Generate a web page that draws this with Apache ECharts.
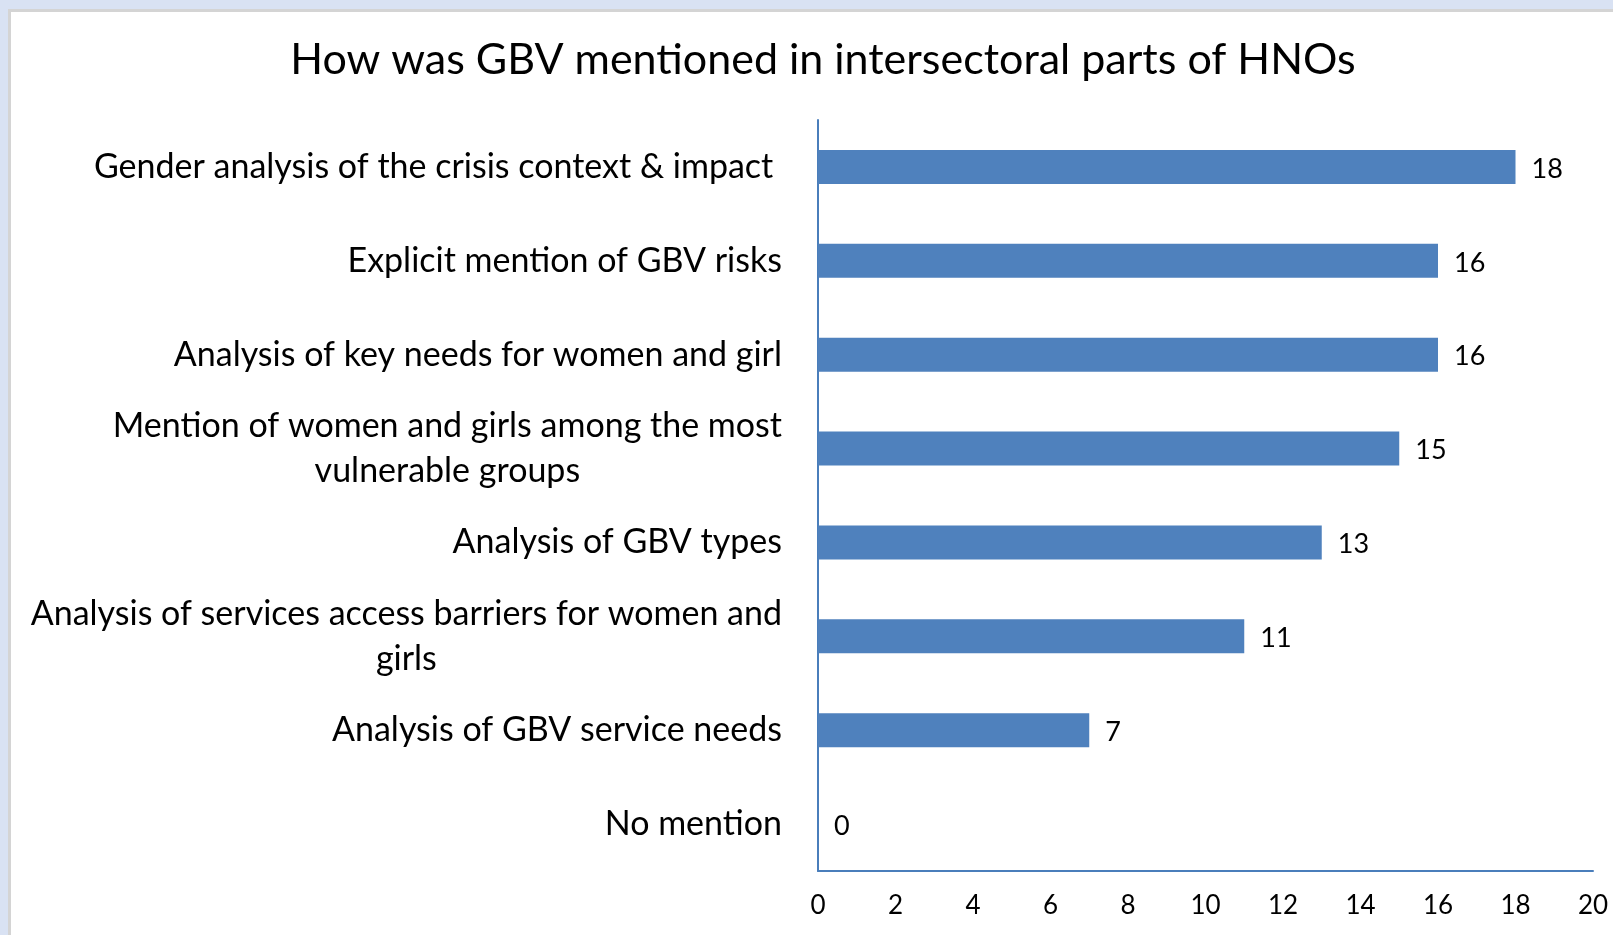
<!DOCTYPE html>
<html>
<head>
<meta charset="utf-8">
<script src="https://cdn.jsdelivr.net/npm/echarts@6/dist/echarts.min.js"></script>
<style>
html,body{margin:0;padding:0;width:1613px;height:935px;overflow:hidden;background:#d9e2f3;}
#frame{position:absolute;left:8px;top:9px;width:1605px;height:926px;border-left:3px solid #d4d4d4;border-top:3px solid #d4d4d4;background:#fff;box-sizing:border-box;}
#chart{position:absolute;left:0;top:0;width:1613px;height:935px;}
</style>
</head>
<body>
<div id="frame"></div>
<div id="chart"></div>
<script>
const title = 'How was GBV mentioned in intersectoral parts of HNOs';
const categories = [
  'Gender analysis of the crisis context & impact ',
  'Explicit mention of GBV risks',
  'Analysis of key needs for women and girl',
  'Mention of women and girls among the most\nvulnerable groups',
  'Analysis of GBV types',
  'Analysis of services access barriers for women and\ngirls',
  'Analysis of GBV service needs',
  'No mention'
];
const values = [18, 16, 16, 15, 13, 11, 7, 0];
const xTicks = [0, 2, 4, 6, 8, 10, 12, 14, 16, 18, 20];

const FONT = 'Lato';
const chart = echarts.init(document.getElementById('chart'), null, {renderer: 'canvas'});
chart.setOption({
  backgroundColor: 'transparent',
  animation: false,
  title: {
    text: title,
    left: 818, textAlign: 'center',
    top: 34,
    textStyle: {fontFamily: FONT, fontSize: 43, fontWeight: 'normal', color: '#000'}
  },
  grid: {left: 818, right: 20, top: 120, bottom: 64, containLabel: false},
  xAxis: {
    type: 'value', min: xTicks[0], max: xTicks[xTicks.length - 1], interval: 2,
    axisLine: {show: true, lineStyle: {color: '#4a7ebb', width: 2}},
    axisTick: {show: false},
    splitLine: {show: false},
    axisLabel: {fontFamily: FONT, fontSize: 26, color: '#000', margin: 22}
  },
  yAxis: {
    type: 'category', inverse: true, data: categories,
    axisLine: {show: true, lineStyle: {color: '#4a7ebb', width: 2}},
    axisTick: {show: false},
    axisLabel: {
      fontFamily: FONT, fontSize: 34, color: '#000', margin: 36, lineHeight: 45,
      formatter: function (v) {
        return v.split('\n').map(function (l) { return '{c|' + l + '}'; }).join('\n');
      },
      rich: {c: {align: 'center', fontFamily: FONT, fontSize: 34, color: '#000', lineHeight: 45}}
    }
  },
  series: [{
    type: 'bar', data: values, barWidth: 34,
    itemStyle: {color: '#4f81bd'},
    label: {show: true, position: 'right', distance: 16, fontFamily: FONT, fontSize: 27, color: '#000', offset: [0, 2]}
  }]
});
</script>
</body>
</html>
